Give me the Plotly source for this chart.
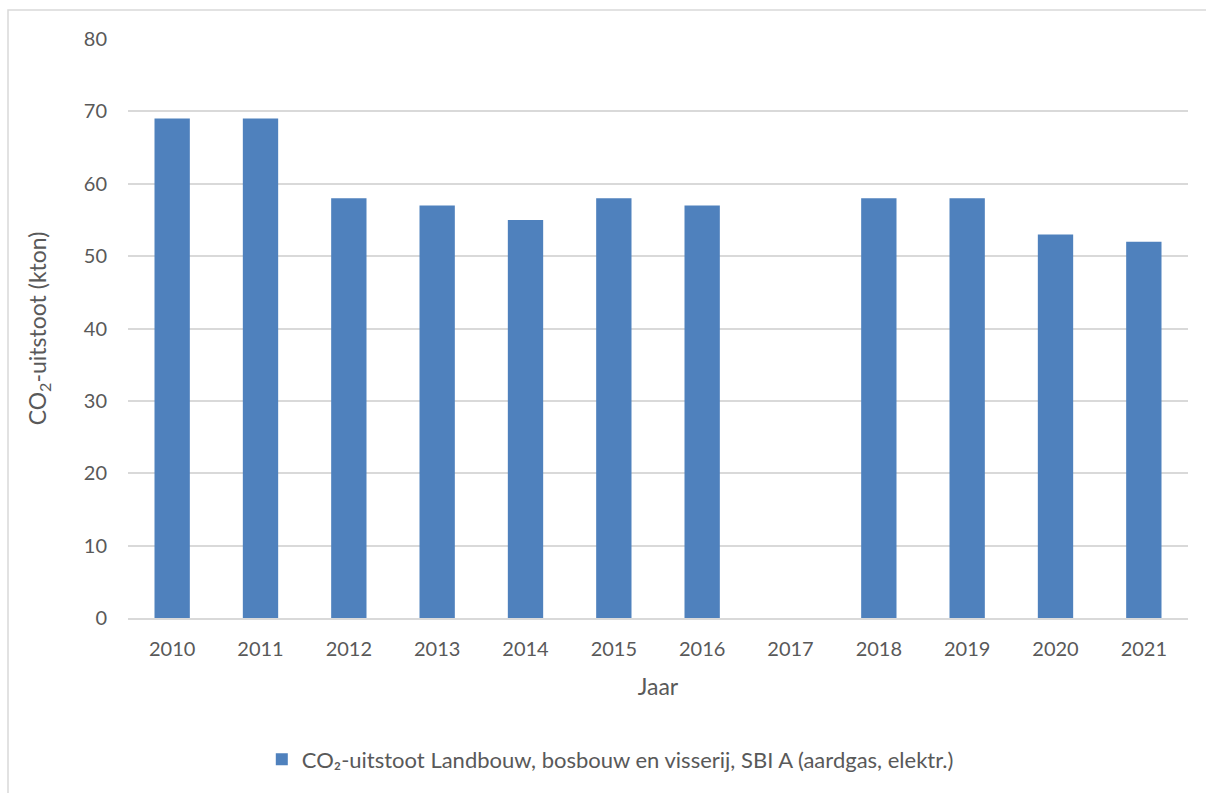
import plotly.graph_objects as go

years = ["2010", "2011", "2012", "2013", "2014", "2015", "2016",
         "2017", "2018", "2019", "2020", "2021"]
co2_kton = [69, 69, 58, 57, 55, 58, 57, None, 58, 58, 53, 52]
y_ticks = [0, 10, 20, 30, 40, 50, 60, 70, 80]

W, H = 1206, 793
L, R, T, B = 128, 18, 39, 173
pw, ph = W - L - R, H - T - B

def px_x(x):
    return (x - L) / pw

def px_y(y):
    return (H - B - y) / ph

text_color = "#595959"
grid_color = "#D9D9D9"
font_family = "Lato, Open Sans, sans-serif"

fig = go.Figure()
fig.add_trace(go.Bar(
    x=years,
    y=co2_kton,
    name="CO₂-uitstoot Landbouw, bosbouw en visserij, SBI A (aardgas, elektr.)",
    marker=dict(color="#4F81BD", line=dict(width=0)),
))

fig.update_layout(
    width=W, height=H,
    margin=dict(l=L, r=R, t=T, b=B),
    paper_bgcolor="white",
    plot_bgcolor="white",
    bargap=0.6,
    font=dict(family=font_family, color=text_color, size=20),
    showlegend=True,
    legend=dict(
        orientation="h",
        x=0.455, xanchor="center",
        y=px_y(762), yanchor="middle",
        font=dict(size=22, color=text_color),
        itemsizing="constant",
    ),
    xaxis=dict(
        type="category",
        showgrid=False,
        showline=True, linecolor=grid_color, linewidth=1.5,
        ticks="", tickfont=dict(size=20, color=text_color),
        ticklabelstandoff=12,
        title=dict(text="Jaar", font=dict(size=23, color=text_color), standoff=20),
    ),
    yaxis=dict(
        range=[0, 80],
        tickvals=y_ticks,
        showgrid=True, gridcolor=grid_color, gridwidth=1.5,
        zeroline=False, showline=False,
        ticks="", tickfont=dict(size=20, color=text_color),
        ticklabelstandoff=20,
        title=dict(text="CO<sub>2</sub>-uitstoot (kton)",
                   font=dict(size=23, color=text_color), standoff=30),
    ),
    shapes=[dict(
        type="rect", xref="paper", yref="paper",
        x0=px_x(8), x1=px_x(1220), y0=px_y(810), y1=px_y(10),
        line=dict(color=grid_color, width=1.5), fillcolor="rgba(0,0,0,0)",
        layer="below",
    )],
)

fig.write_html("out.html")
